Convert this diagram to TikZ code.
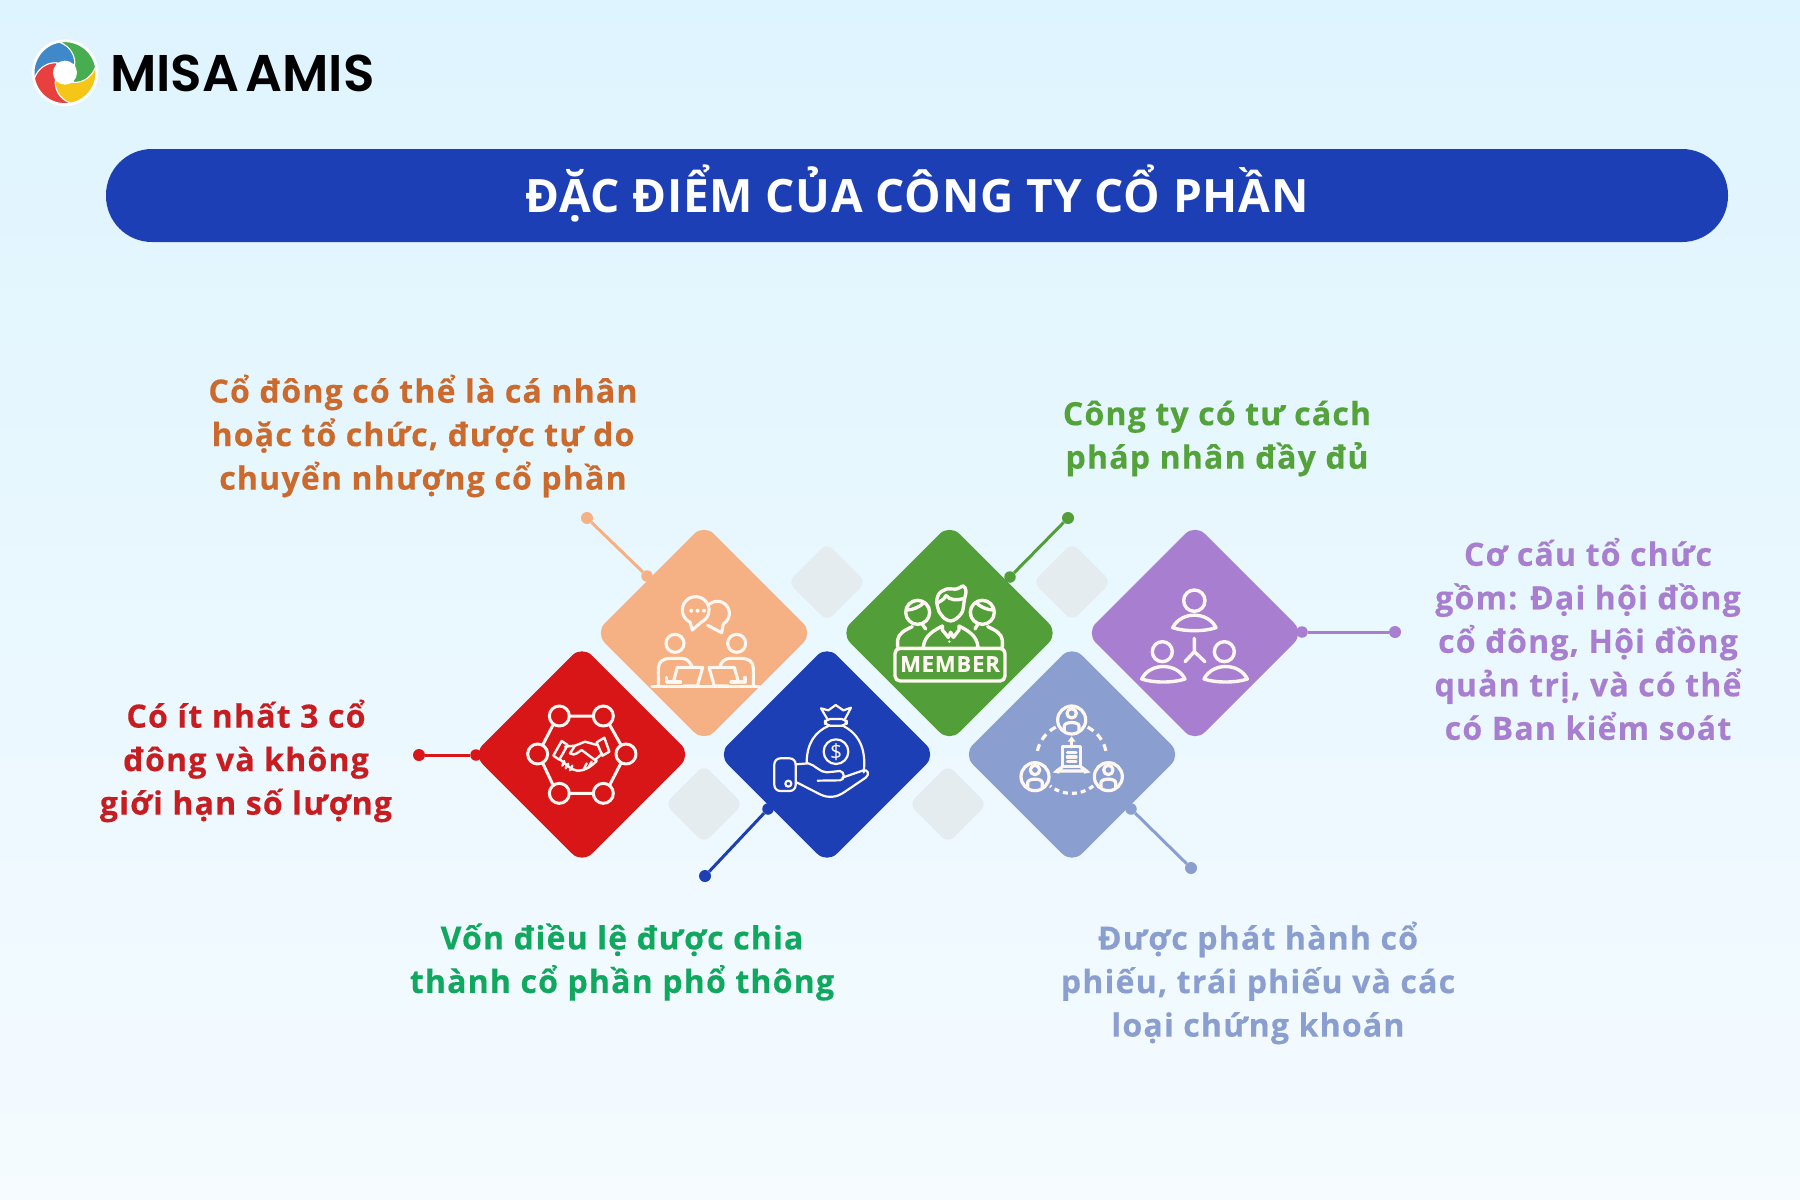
\documentclass[tikz,border=0pt]{standalone}
\usepackage{fontspec}
\setmainfont{Open Sans}
\newfontfamily\bodyf[LetterSpace=3.8,BoldFeatures={FakeBold=0.4}]{Open Sans}
\newfontfamily\titlef[LetterSpace=1.5]{Open Sans}
\newfontfamily\logof[UprightFont=* SemiBold]{Poppins}
\usetikzlibrary{shapes.geometric,arrows.meta}
\definecolor{cpeach}{HTML}{F5B184}
\definecolor{cred}{HTML}{D81618}
\definecolor{cblue}{HTML}{1D3FB5}
\definecolor{cgreen}{HTML}{529E38}
\definecolor{cperi}{HTML}{8A9FD0}
\definecolor{cpurple}{HTML}{A87FD0}
\definecolor{cgrey}{HTML}{E5ECEF}
\definecolor{torange}{HTML}{CB6A2C}
\definecolor{tgreen}{HTML}{54A23A}
\definecolor{tmint}{HTML}{0FA85E}
\definecolor{tred}{HTML}{C81D20}
\definecolor{icw}{HTML}{FFF8F2}
\tikzset{
  gem/.style={diamond,aspect=1,minimum width=218pt,minimum height=218pt,inner sep=0pt,outer sep=0pt,rounded corners=14pt,fill=#1},
  ghost/.style={diamond,aspect=1,minimum width=78pt,minimum height=78pt,inner sep=0pt,outer sep=0pt,rounded corners=8pt,fill=cgrey},
  enddot/.style={circle,inner sep=0pt,minimum size=12pt,fill=#1},
  startdot/.style={circle,inner sep=0pt,minimum size=11.5pt,fill=#1},
  link/.style={draw=#1,line width=3pt},
  lab/.style={align=center,text=#1,font=\bodyf\bfseries\fontsize{32}{43.5}\selectfont,inner sep=0pt},
  zoomat/.style 2 args={shift={(#1,#2)},x=.33333pt,y=-.33333pt},
  ic/.style={draw=icw,line width=#1,line cap=round,line join=round},
  ic/.default=3.1pt
}
\newcommand{\arcp}[5]{plot[domain=0:1,samples=28,variable=\t]({#1+#3*cos(#4+(#5-#4)*\t)},{#2+#3*sin(#4+(#5-#4)*\t)})}
\begin{document}
\begin{tikzpicture}[x=1pt,y=-1pt]
\shade[top color={rgb,255:red,222;green,244;blue,254},bottom color={rgb,255:red,245;green,251;blue,255}] (0,0) rectangle (1800,1200);
\useasboundingbox (0,0) rectangle (1800,1200);

% logo
\begin{scope}[zoomat={0}{0}]
\fill[white] (195,218) circle[radius=100];
\foreach \a/\c in {170/3F88C9,260/46AE4E,350/F5C518,80/E8403F}{
  \definecolor{bl}{HTML}{\c}
  \fill[bl,draw=white,line width=1pt] \arcp{195}{218}{93}{\a}{\a+90}
     .. controls ({195+80*cos(\a+115)},{218+80*sin(\a+115)}) and ({195+55*cos(\a+135)},{218+55*sin(\a+135)}) .. ({195+38*cos(\a+150)},{218+38*sin(\a+150)})
     -- ({195+38*cos(\a+60)},{218+38*sin(\a+60)})
     .. controls ({195+55*cos(\a+45)},{218+55*sin(\a+45)}) and ({195+80*cos(\a+25)},{218+80*sin(\a+25)}) .. cycle;
}
\fill[white] (195,218) circle[radius=36];
\end{scope}
\node[anchor=west,inner sep=0pt,font=\logof\fontsize{51.6}{51.6}\selectfont] (logotext) at (110,73) {MISA\hspace{-.12em} AMIS};

% title
\node[fill=cblue,rounded corners=46pt,minimum width=1622pt,minimum height=93pt,inner sep=0pt] (titlebar) at (917,195.5) {};
\node[text=white,inner sep=0pt,font=\titlef\bfseries\fontsize{46}{46}\selectfont] (title) at (917,193) {ĐẶC ĐIỂM CỦA CÔNG TY CỔ PHẦN};

% ghosts
\node[ghost] (g1) at (827,582) {};
\node[ghost] (g2) at (1072,582) {};
\node[ghost] (g3) at (704,804) {};
\node[ghost] (g4) at (948,804) {};

% gems
\node[gem=cpeach] (dpeach) at (704,633) {};
\node[gem=cgreen] (dgreen) at (949.5,633) {};
\node[gem=cpurple] (dpurple) at (1195,633) {};
\node[gem=cred] (dred) at (582,754.5) {};
\node[gem=cblue] (dblue) at (827,754.5) {};
\node[gem=cperi] (dperi) at (1072,754.5) {};

% connectors
\node[enddot=cpeach] (epeach) at (587,518) {};
\node[enddot=cgreen] (egreen) at (1068,518) {};
\node[enddot=cpurple] (epurple) at (1395,632) {};
\node[enddot=cred] (ered) at (419,755) {};
\node[enddot=cblue] (eblue) at (705,876) {};
\node[enddot=cperi] (eperi) at (1191,868) {};
\node[startdot=cpeach] (speach) at (647,576) {};
\node[startdot=cgreen] (sgreen) at (1010,577) {};
\node[startdot=cpurple] (spurple) at (1302,632) {};
\node[startdot=cred] (sred) at (476,755) {};
\node[startdot=cblue] (sblue) at (768,809) {};
\node[startdot=cperi] (speri) at (1131,809) {};
\draw[link=cpeach] (speach) -- (epeach);
\draw[link=cgreen] (sgreen) -- (egreen);
\draw[link=cpurple] (spurple) -- (epurple);
\draw[link=cred] (sred) -- (ered);
\draw[link=cblue] (sblue) -- (eblue);
\draw[link=cperi] (speri) -- (eperi);

% peach icon
\begin{scope}[zoomat={640}{580},ic]
\draw \arcp{167}{90}{40}{115}{425} -- (157,150) -- cycle;
\draw \arcp{232}{100}{36}{232}{420} -- (245,158) -- (203,136);
\fill[icw] (154,92) circle[radius=6] (173,92) circle[radius=6] (192,92) circle[radius=6];
\foreach \s/\o in {1/0,-1/395}{
 \begin{scope}[xshift=\o pt*.33333]
 \begin{scope}[x=\s*.33333pt]
 \draw (105,190) circle[radius=27];
 \draw (55,318) -- (55,265) .. controls (55,245) and (70,235) .. (90,235) -- (125,235) .. controls (140,235) and (150,245) .. (155,258);
 \draw (80,292) -- (80,306) -- (122,306);
 \draw (112,262) -- (188,262) -- (172,318) -- (130,318) (112,262) -- (100,306);
 \end{scope}
 \end{scope}
}
\draw (36,320) -- (358,320);
\end{scope}

% red icon
\begin{scope}[zoomat={515}{695},ic=3pt]
\foreach \x/\y in {133/63,265/63,68/177,333/177,133/295,265/295}{\draw (\x,\y) circle[radius=30];}
\draw (163,63) -- (235,63) (163,295) -- (235,295) (115,88) -- (83,150) (283,88) -- (318,150) (83,204) -- (115,272) (318,204) -- (283,272);
\begin{scope}[line width=2.4pt]
\draw (115,182) -- (140,138) -- (158,150) -- (133,194) -- cycle;
\draw (245,142) -- (268,128) -- (283,170) -- (262,182) -- cycle;
\draw (150,155) -- (180,152) -- (210,140) -- (246,150);
\draw (180,152) -- (165,175) .. controls (180,185) and (190,170) .. (200,165) -- (240,195) -- (262,175);
\draw (133,192) -- (170,222) .. controls (190,232) and (215,228) .. (245,198);
\draw (148,198) -- (142,212) (160,206) -- (152,220) (172,212) -- (165,226) (215,205) -- (205,225) (230,200) -- (220,218);
\end{scope}
\end{scope}

% blue icon
\begin{scope}[zoomat={765}{695},ic=2.2pt]
\draw (187,72) -- (168,40) -- (190,46) -- (212,30) -- (235,46) -- (258,38) -- (240,72);
\draw[rounded corners=5pt] (180,72) rectangle (245,92);
\draw (192,92) .. controls (150,110) and (125,145) .. (125,205);
\draw (233,92) .. controls (280,115) and (305,160) .. (296,232);
\draw (213,170) circle[radius=37];
\node[text=icw,inner sep=0pt,font=\titlef\fontsize{21}{21}\selectfont] (dollar) at (213,170) {\$};
\draw[rounded corners=6pt] (28,190) rectangle (92,288);
\draw (70,266) circle[radius=9];
\draw (92,208) -- (130,205) .. controls (150,210) and (165,232) .. (185,232) -- (225,228) .. controls (240,230) and (240,255) .. (225,256) -- (158,257);
\draw (232,248) -- (295,226) .. controls (308,222) and (315,238) .. (302,248) -- (240,290) .. controls (215,308) and (190,310) .. (165,298) -- (95,262);
\end{scope}

% green icon
\begin{scope}[zoomat={885}{575},ic=3.4pt]
\draw plot[smooth] coordinates {(162,110) (155,80) (163,55) (185,42) (215,42) (235,33) (243,48) (238,75) (232,110) (215,130) (197,138) (178,130) (162,110)};
\draw (160,82) .. controls (175,75) and (180,68) .. (183,62) .. controls (195,75) and (215,78) .. (236,70);
\draw (98,112) circle[radius=36];
\draw (292,112) circle[radius=36];
\draw (65,105) .. controls (85,105) and (105,95) .. (118,82);
\draw (325,105) .. controls (305,105) and (285,95) .. (272,82);
\draw (38,216) -- (38,195) .. controls (40,175) and (60,165) .. (82,155);
\draw (352,216) -- (352,195) .. controls (350,175) and (330,165) .. (308,155);
\draw (115,216) .. controls (118,180) and (150,165) .. (172,153) (279,216) .. controls (276,180) and (245,165) .. (222,153);
\draw (172,153) -- (172,165) -- (190,187) -- (197,172) -- (205,187) -- (222,165) -- (222,153);
\draw (112,148) -- (122,162) (278,148) -- (270,162);
\fill[icw] (193,200) circle[radius=4];
\draw[rounded corners=5pt] (30,220) rectangle (360,318);
\node[text=icw,inner sep=0pt,font=\bodyf\bfseries\fontsize{22}{22}\selectfont] (membertext) at (195,267) {MEMBER};
\end{scope}

% periwinkle icon
\begin{scope}[zoomat={1010}{695},ic=3.2pt]
\foreach \x/\y in {185/75,75/245,295/245}{
  \draw (\x,\y) circle[radius=42];
  \draw (\x,\y-20) circle[radius=14];
  \draw (\x-22,\y+32) -- (\x-22,\y+18) .. controls (\x-22,\y+4) and (\x+22,\y+4) .. (\x+22,\y+18) -- (\x+22,\y+32);
}
\draw[dash pattern=on 7pt off 5pt,line cap=butt] \arcp{185}{190}{105}{243}{186};
\draw[dash pattern=on 7pt off 5pt,line cap=butt] \arcp{185}{190}{105}{297}{354};
\draw[dash pattern=on 5pt off 4pt,line cap=butt] \arcp{185}{190}{105}{52}{128};
\draw (158,155) rectangle (212,215);
\draw (172,172) -- (198,172) (172,186) -- (198,186) (172,200) -- (198,200);
\draw (185,155) -- (185,133);
\fill[icw] (185,124) -- (197,140) -- (173,140) -- cycle;
\draw (140,228) -- (230,228) (158,215) -- (140,228) (212,215) -- (230,228);
\fill[icw] (128,232) -- (148,218) -- (148,236) -- cycle (242,232) -- (222,218) -- (222,236) -- cycle;
\end{scope}

% purple icon
\begin{scope}[zoomat={1135}{580},ic=3.4pt]
\foreach \x/\y/\r in {178/62/32,82/215/30,268/215/30}{
  \draw (\x,\y) circle[radius=\r];
}
\foreach \x/\y in {178/143,85/297,272/297}{
  \draw (\x-65,\y) .. controls (\x-40,\y-50) and (\x+40,\y-50) .. (\x+65,\y) .. controls (\x+30,\y+12) and (\x-30,\y+12) .. cycle;
}
\draw (178,175) -- (178,215) (150,245) -- (178,215) -- (210,245);
\end{scope}

% labels
\node[lab=torange] (t1) at (423,436) {Cổ đông có thể là cá nhân\\hoặc tổ chức, được tự do\\chuyển nhượng cổ phần};
\node[lab=tgreen] (t2) at (1217,438.5) {Công ty có tư cách\\pháp nhân đầy đủ};
\node[lab=cpurple] (t3) at (1588,639) {Cơ cấu tổ chức\\gồm: Đại hội đồng\\cổ đông, Hội đồng\\quản trị, và có thể\\có Ban kiểm soát};
\node[lab=tred] (t4) at (246,761) {Có ít nhất 3 cổ\\đông và không\\giới hạn số lượng};
\node[lab=tmint] (t5) at (622,962) {Vốn điều lệ được chia\\thành cổ phần phổ thông};
\node[lab=cperi] (t6) at (1258,983) {Được phát hành cổ\\phiếu, trái phiếu và các\\loại chứng khoán};
\end{tikzpicture}
\end{document}
